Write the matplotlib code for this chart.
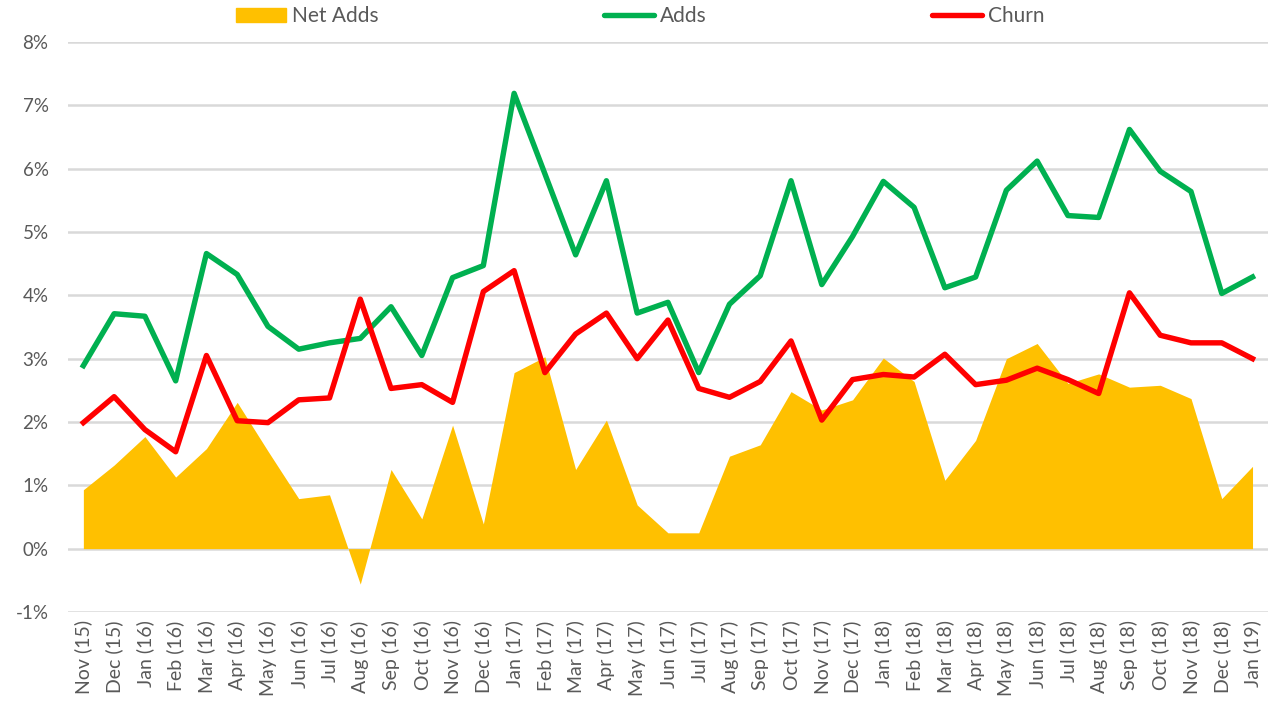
import matplotlib.pyplot as plt
import numpy as np
from matplotlib.patches import Patch
from matplotlib.lines import Line2D
from matplotlib.ticker import FuncFormatter

plt.rcParams['font.family'] = ['Lato', 'DejaVu Sans']

months = ["Nov (15)", "Dec (15)",
          "Jan (16)", "Feb (16)", "Mar (16)", "Apr (16)", "May (16)", "Jun (16)",
          "Jul (16)", "Aug (16)", "Sep (16)", "Oct (16)", "Nov (16)", "Dec (16)",
          "Jan (17)", "Feb (17)", "Mar (17)", "Apr (17)", "May (17)", "Jun (17)",
          "Jul (17)", "Aug (17)", "Sep (17)", "Oct (17)", "Nov (17)", "Dec (17)",
          "Jan (18)", "Feb (18)", "Mar (18)", "Apr (18)", "May (18)", "Jun (18)",
          "Jul (18)", "Aug (18)", "Sep (18)", "Oct (18)", "Nov (18)", "Dec (18)",
          "Jan (19)"]

# values in %
adds = [2.89, 3.71, 3.67, 2.65, 4.66, 4.33, 3.51, 3.15, 3.25, 3.32, 3.82, 3.05, 4.28,
        4.47, 7.19, 5.92, 4.64, 5.81, 3.72, 3.89, 2.78, 3.86, 4.31, 5.81, 4.17, 4.93,
        5.80, 5.39, 4.12, 4.29, 5.66, 6.12, 5.26, 5.23, 6.62, 5.96, 5.64, 4.03, 4.29]
churn = [1.99, 2.40, 1.88, 1.53, 3.05, 2.02, 1.99, 2.35, 2.38, 3.94, 2.53, 2.59, 2.31,
         4.06, 4.39, 2.78, 3.39, 3.72, 3.00, 3.61, 2.53, 2.39, 2.64, 3.28, 2.03, 2.67,
         2.75, 2.71, 3.07, 2.59, 2.66, 2.85, 2.67, 2.45, 4.04, 3.37, 3.25, 3.25, 3.00]
net_adds = [0.93, 1.32, 1.77, 1.13, 1.58, 2.31, 1.54, 0.79, 0.85, -0.56, 1.25, 0.47, 1.95,
            0.39, 2.78, 3.03, 1.25, 2.03, 0.69, 0.25, 0.25, 1.46, 1.64, 2.48, 2.19, 2.35,
            3.01, 2.64, 1.08, 1.71, 3.00, 3.24, 2.61, 2.76, 2.55, 2.58, 2.37, 0.79, 1.30]

yellow = '#FFC000'
green = '#00B050'
red = '#FF0000'
grey = '#595959'

x = np.arange(len(months))

fig = plt.figure(figsize=(12.73, 7.13), dpi=100)
ax = fig.add_axes([0.0534, 0.1417, 0.9426, 0.7993])

ax.fill_between(x, 0, net_adds, color=yellow, linewidth=0, zorder=2)
ax.plot(x, adds, color=green, linewidth=3.9, solid_joinstyle='round', zorder=3)
ax.plot(x, churn, color=red, linewidth=3.9, solid_joinstyle='round', zorder=4)

ax.set_xlim(-0.5, len(months) - 0.5)
ax.set_ylim(-1, 8)
ax.set_yticks(np.arange(-1, 9, 1))
ax.yaxis.set_major_formatter(FuncFormatter(lambda v, p: f"{v:.0f}%"))
ax.set_xticks(x)
ax.set_xticklabels(months, rotation=90)

ax.grid(axis='y', color='#D9D9D9', linewidth=1.8, zorder=1)
ax.set_axisbelow(True)
for s in ax.spines.values():
    s.set_visible(False)
ax.tick_params(axis='x', length=0, labelsize=14, colors=grey, pad=6)
ax.tick_params(axis='y', length=0, labelsize=13.5, colors=grey, pad=14)

handles = [Patch(color=yellow),
           Line2D([0], [0], color=green, linewidth=3.9, solid_capstyle='round'),
           Line2D([0], [0], color=red, linewidth=3.9, solid_capstyle='round')]
fig.legend(handles, ["Net Adds", "Adds", "Churn"], loc='center', ncol=3,
           bbox_to_anchor=(0.503, 0.977), frameon=False, fontsize=15,
           labelcolor=grey, handlelength=2.4, handletextpad=0.3,
           columnspacing=10.8, handleheight=0.65)

fig.savefig('out.png', dpi=100)
